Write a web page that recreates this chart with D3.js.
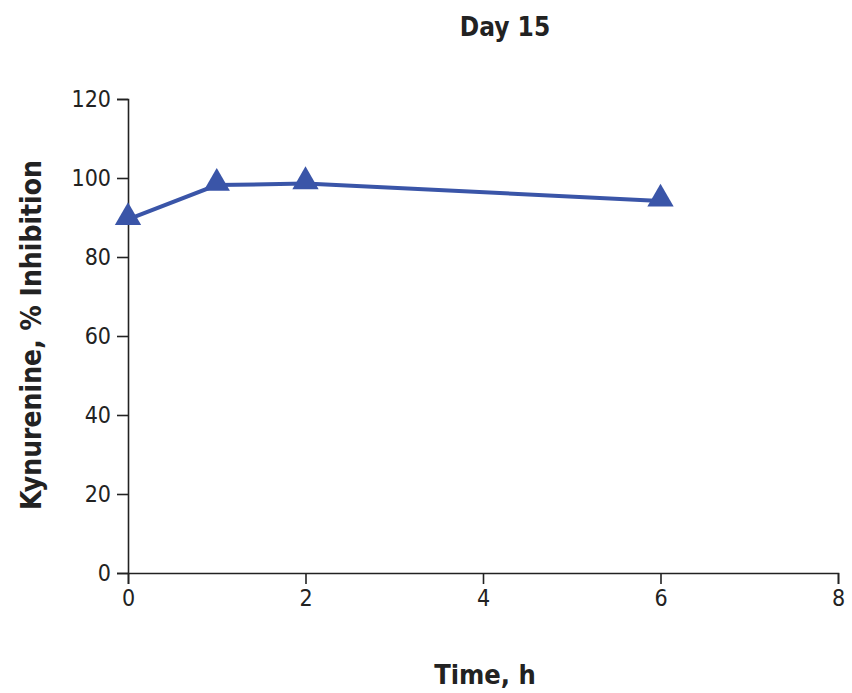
<!DOCTYPE html>
<html><head><meta charset="utf-8">
<script src="https://cdn.jsdelivr.net/npm/d3@7"></script>
<style>body{margin:0;background:#fff}text{font-family:"Liberation Sans Narrow","DejaVu Sans Condensed",sans-serif;fill:#222}</style>
</head><body><svg id="c" width="852" height="693"></svg>
<script>
const times = [0, 1, 2, 6];
const inhibition = [89.5, 98.2, 98.6, 94.2];
const xTicks = [0, 2, 4, 6, 8];
const yTicks = [0, 20, 40, 60, 80, 100, 120];

const svg = d3.select("#c");
const x = d3.scaleLinear().domain([0, 8]).range([128, 838]);
const y = d3.scaleLinear().domain([0, 120]).range([573, 99]);
const color = "#3a55a8";

svg.append("g").attr("transform", "translate(0,573)")
  .call(d3.axisBottom(x).tickValues(xTicks).tickSize(11).tickPadding(6))
  .call(g => g.selectAll("text").style("font-size", "23px"));
svg.append("g").attr("transform", "translate(128,0)")
  .call(d3.axisLeft(y).tickValues(yTicks).tickSize(11).tickPadding(6))
  .call(g => g.selectAll("text").style("font-size", "23px"));
svg.selectAll(".domain, .tick line").attr("stroke", "#222").attr("stroke-width", 1.6);

const pts = times.map((t, i) => [t, inhibition[i]]);
svg.append("path").datum(pts)
  .attr("fill", "none").attr("stroke", color).attr("stroke-width", 4)
  .attr("d", d3.line().x(d => x(d[0])).y(d => y(d[1])));
svg.selectAll(".m").data(pts).join("path")
  .attr("transform", d => `translate(${x(d[0])},${y(d[1]) - 2})`)
  .attr("d", d3.symbol(d3.symbolTriangle, 300))
  .attr("fill", color);

svg.append("text").attr("x", 505).attr("y", 36).attr("text-anchor", "middle")
  .style("font-size", "26px").style("font-weight", "bold").text("Day 15");
svg.append("text").attr("x", 485).attr("y", 684).attr("text-anchor", "middle")
  .style("font-size", "27px").style("font-weight", "bold").text("Time, h");
svg.append("text").attr("transform", "translate(41,335) rotate(-90)").attr("text-anchor", "middle")
  .style("font-size", "28px").style("font-weight", "bold").text("Kynurenine, % Inhibition");
</script></body></html>
